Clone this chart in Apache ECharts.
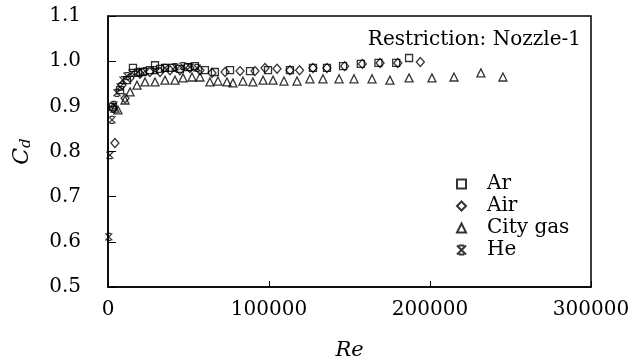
<!DOCTYPE html>
<html>
<head>
<meta charset="utf-8">
<script src="https://cdn.jsdelivr.net/npm/echarts@6/dist/echarts.min.js"></script>
<style>
  html, body { margin: 0; padding: 0; background: #fff; }
  #chart { width: 636px; height: 362px; }
</style>
</head>
<body>
<div id="chart"></div>
<script>
// Re, Cd pairs
const arData = [
  [3100, 0.899], [7500, 0.936], [11800, 0.958], [15500, 0.985], [18600, 0.974],
  [21700, 0.976], [26000, 0.980], [29200, 0.991], [32300, 0.983], [35400, 0.985],
  [39700, 0.985], [44700, 0.983], [49700, 0.987], [54000, 0.989], [60200, 0.980],
  [66400, 0.976], [75800, 0.980], [88200, 0.978], [99400, 0.980], [113000, 0.980],
  [127300, 0.985], [136000, 0.985], [146000, 0.989], [157000, 0.994], [168000, 0.996],
  [179000, 0.996], [187000, 1.007]
];
const airData = [
  [4300, 0.819], [3100, 0.896], [10600, 0.918], [8700, 0.947], [13700, 0.963],
  [19900, 0.972], [26000, 0.976], [32300, 0.976], [38500, 0.980], [44700, 0.980],
  [50900, 0.985], [57100, 0.980], [64600, 0.974], [72700, 0.976], [82000, 0.978],
  [91300, 0.978], [97500, 0.985], [105000, 0.983], [113000, 0.980], [119000, 0.980],
  [127300, 0.985], [136000, 0.985], [147000, 0.989], [158000, 0.994], [169000, 0.996],
  [180000, 0.996], [194000, 0.998]
];
const cityGasData = [
  [4300, 0.896], [6200, 0.892], [10600, 0.914], [13700, 0.932], [18000, 0.947],
  [23000, 0.954], [29200, 0.954], [35400, 0.958], [41600, 0.958], [46600, 0.963],
  [52200, 0.965], [57100, 0.965], [63300, 0.954], [68300, 0.956], [73900, 0.954],
  [77600, 0.952], [83800, 0.956], [90000, 0.954], [96300, 0.958], [102500, 0.958],
  [109300, 0.956], [117400, 0.956], [125400, 0.961], [133500, 0.961], [143500, 0.961],
  [152800, 0.961], [164000, 0.961], [175100, 0.958], [187000, 0.963], [201200, 0.963],
  [214900, 0.965], [231600, 0.974], [245300, 0.965]
];
const heData = [
  [500, 0.611], [1200, 0.792], [2500, 0.870], [3700, 0.903], [5600, 0.930],
  [7500, 0.943], [9300, 0.958], [11800, 0.967], [14900, 0.974], [18600, 0.976],
  [23000, 0.978], [29200, 0.980], [35400, 0.985], [41600, 0.987], [46600, 0.989],
  [50900, 0.987], [55300, 0.985]
];
const seriesNames = ["Ar", "Air", "City gas", "He"];
const xTicks = [0, 100000, 200000, 300000];
const yTicks = [0.5, 0.6, 0.7, 0.8, 0.9, 1.0, 1.1];

const FONT = "DejaVu Serif";
const starPath = "path://M0,0L10,10M10,0L0,10M2,0L8,0M2,10L8,10";

function marker(name, data, symbol, size) {
  return {
    name: name,
    type: "scatter",
    data: data,
    symbol: symbol,
    symbolSize: size,
    itemStyle: { color: "rgba(255,255,255,0)", borderColor: "#000", borderWidth: 1.3 },
    emphasis: { disabled: true }
  };
}

const chart = echarts.init(document.getElementById("chart"), null, { renderer: "canvas" });
chart.setOption({
  animation: false,
  backgroundColor: "#fff",
  grid: {
    left: 108, top: 16, right: 45, bottom: 75,
    outerBoundsMode: "none",
    show: true, borderColor: "#000", borderWidth: 1.5
  },
  title: {
    text: "Restriction: Nozzle-1",
    right: 50,
    top: 25,
    textStyle: { fontFamily: FONT, fontSize: 20, fontWeight: "normal", color: "#000" }
  },
  legend: {
    orient: "vertical",
    left: 451,
    top: 169,
    itemWidth: 9,
    itemHeight: 9,
    itemGap: 2,
    data: seriesNames,
    textStyle: { fontFamily: FONT, fontSize: 20, color: "#000", lineHeight: 18, padding: [0, 0, 0, 16] }
  },
  xAxis: {
    type: "value",
    min: xTicks[0],
    max: xTicks[xTicks.length - 1],
    interval: xTicks[1] - xTicks[0],
    name: "Re",
    nameLocation: "middle",
    nameGap: 53,
    nameTextStyle: { fontFamily: FONT, fontSize: 21, fontStyle: "italic", color: "#000" },
    axisLine: { lineStyle: { color: "#000", width: 1.5 } },
    axisTick: { inside: true, length: 6, lineStyle: { color: "#000" } },
    axisLabel: { fontFamily: FONT, fontSize: 20, color: "#000", margin: 13, formatter: v => String(v) },
    splitLine: { show: false }
  },
  yAxis: {
    type: "value",
    min: yTicks[0],
    max: yTicks[yTicks.length - 1],
    interval: 0.1,
    name: "{i|C}{s|d}",
    nameLocation: "middle",
    nameGap: 74,
    nameRotate: 90,
    nameTextStyle: {
      rich: {
        i: { fontFamily: FONT, fontSize: 22, fontStyle: "italic", color: "#000" },
        s: { fontFamily: FONT, fontSize: 15, fontStyle: "italic", color: "#000", verticalAlign: "bottom", padding: [8, 0, 0, 0] }
      }
    },
    axisLine: { lineStyle: { color: "#000", width: 1.5 } },
    axisTick: { inside: true, length: 8, lineStyle: { color: "#000" } },
    axisLabel: { fontFamily: FONT, fontSize: 20, color: "#000", margin: 27, formatter: v => v.toFixed(1) },
    splitLine: { show: false }
  },
  series: [
    marker(seriesNames[0], arData, "rect", 7),
    marker(seriesNames[1], airData, "diamond", [8, 9]),
    marker(seriesNames[2], cityGasData, "triangle", 8),
    marker(seriesNames[3], heData, starPath, 7)
  ]
});
</script>
</body>
</html>
